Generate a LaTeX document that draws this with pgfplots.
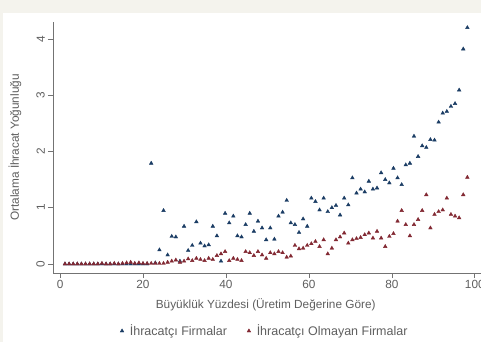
\documentclass[border=0pt]{standalone}
\usepackage{pgfplots}
\usepackage{pgfplotstable}
\pgfplotsset{compat=1.18}
\usepackage{fontspec}
\setmainfont{Liberation Sans}
\definecolor{stnavy}{RGB}{26,60,100}
\definecolor{stmaroon}{RGB}{130,40,50}
\definecolor{bgbeige}{RGB}{244,243,237}
\definecolor{txt}{RGB}{95,95,95}
\pgfplotstableread{
p exp non
1 0 0
2 0 0
3 0 0
4 0 0
5 0 0
6 0 0
7 0 0
8 0 0
9 0 0
10 0 0.01
11 0 0
12 0 0
13 0 0.01
14 0 0
15 0 0.01
16 0 0.02
17 0 0.03
18 0 0.01
19 0 0.02
20 0 0.01
21 0 0.01
22 1.79 0.01
23 0.02 0.01
24 0.25 0.01
25 0.95 0.01
26 0.16 0.03
27 0.49 0.05
28 0.48 0.07
29 0.05 0.03
30 0.67 0.05
31 0.24 0.09
32 0.33 0.06
33 0.75 0.10
34 0.37 0.08
35 0.32 0.06
36 0.34 0.10
37 0.67 0.08
38 0.50 0.15
39 0.05 0.18
40 0.90 0.22
41 0.73 0.06
42 0.85 0.10
43 0.50 0.08
44 0.48 0.06
45 0.70 0.22
46 0.90 0.20
47 0.58 0.15
48 0.76 0.22
49 0.64 0.16
50 0.43 0.10
51 0.64 0.20
52 0.44 0.18
53 0.85 0.22
54 0.92 0.20
55 1.13 0.12
56 0.73 0.14
57 0.70 0.33
58 0.56 0.27
59 0.80 0.28
60 0.67 0.33
61 1.17 0.36
62 1.11 0.40
63 0.96 0.31
64 1.17 0.43
65 0.93 0.18
66 1.00 0.28
67 1.04 0.43
68 0.87 0.48
69 1.17 0.55
70 1.05 0.37
71 1.53 0.43
72 1.26 0.45
73 1.33 0.47
74 1.28 0.52
75 1.47 0.55
76 1.33 0.46
77 1.35 0.58
78 1.62 0.46
79 1.50 0.31
80 1.44 0.49
81 1.70 0.54
82 1.53 0.76
83 1.41 0.95
84 1.76 0.70
85 1.79 0.50
86 2.27 0.70
87 1.91 0.79
88 2.10 0.95
89 2.07 1.23
90 2.21 0.64
91 2.20 0.88
92 2.52 0.93
93 2.68 0.96
94 2.71 1.17
95 2.80 0.88
96 2.85 0.85
97 3.09 0.82
98 3.82 1.23
99 4.20 1.54
}\datatab
\begin{document}
\begin{tikzpicture}[x=1pt,y=1pt]
\fill[bgbeige] (0,0) rectangle (481,342);
\fill[white] (3,0) rectangle (481,329);
\begin{axis}[
  at={(53pt,69pt)}, anchor=south west,
  scale only axis, width=428pt, height=251pt,
  xmin=-1.7, xmax=101.5, ymin=-0.16, ymax=4.3,
  axis x line*=bottom, axis y line*=left,
  axis line style={-, draw=black!55, line width=0.6pt},
  tick style={draw=black!55, line width=0.6pt},
  tick align=outside, major tick length=5pt,
  xtick={0,20,40,60,80,100}, ytick={0,1,2,3,4},
  /pgf/number format/assume math mode=true,
  font=\fontsize{11.8}{13}\selectfont,
  ticklabel style={text=txt, font=\fontsize{11.8}{13}\selectfont},
  yticklabel style={rotate=90, anchor=south, inner sep=3pt},
  xticklabel style={inner sep=2pt},
  xlabel={Büyüklük Yüzdesi (Üretim Değerine Göre)},
  ylabel={Ortalama İhracat Yoğunluğu},
  label style={text=txt},
  xlabel style={at={(axis description cs:0.497,-0.127)}, anchor=center},
  ylabel style={at={(axis description cs:-0.089,0.5)}, anchor=center, rotate=0},
  legend style={at={(axis description cs:0.495,-0.231)}, anchor=center,
    draw=none, fill=none, legend columns=2, text=txt,
    font=\fontsize{12.5}{14}\selectfont,
    /tikz/every odd column/.append style={column sep=4pt},
    /tikz/every even column/.append style={column sep=18pt}},
  legend cell align=left,
]
\addplot[only marks, mark=triangle*, mark size=2.1pt, draw=stnavy, fill=stnavy]
  table[x expr=0.2+0.99*\thisrow{p}, y=exp]{\datatab};
\addlegendentry{İhracatçı Firmalar}
\addplot[only marks, mark=triangle*, mark size=2.1pt, draw=stmaroon, fill=stmaroon]
  table[x expr=0.2+0.99*\thisrow{p}, y=non]{\datatab};
\addlegendentry{İhracatçı Olmayan Firmalar}
\end{axis}
\pgfresetboundingbox
\useasboundingbox (0,0) rectangle (481,342);
\end{tikzpicture}
\end{document}
